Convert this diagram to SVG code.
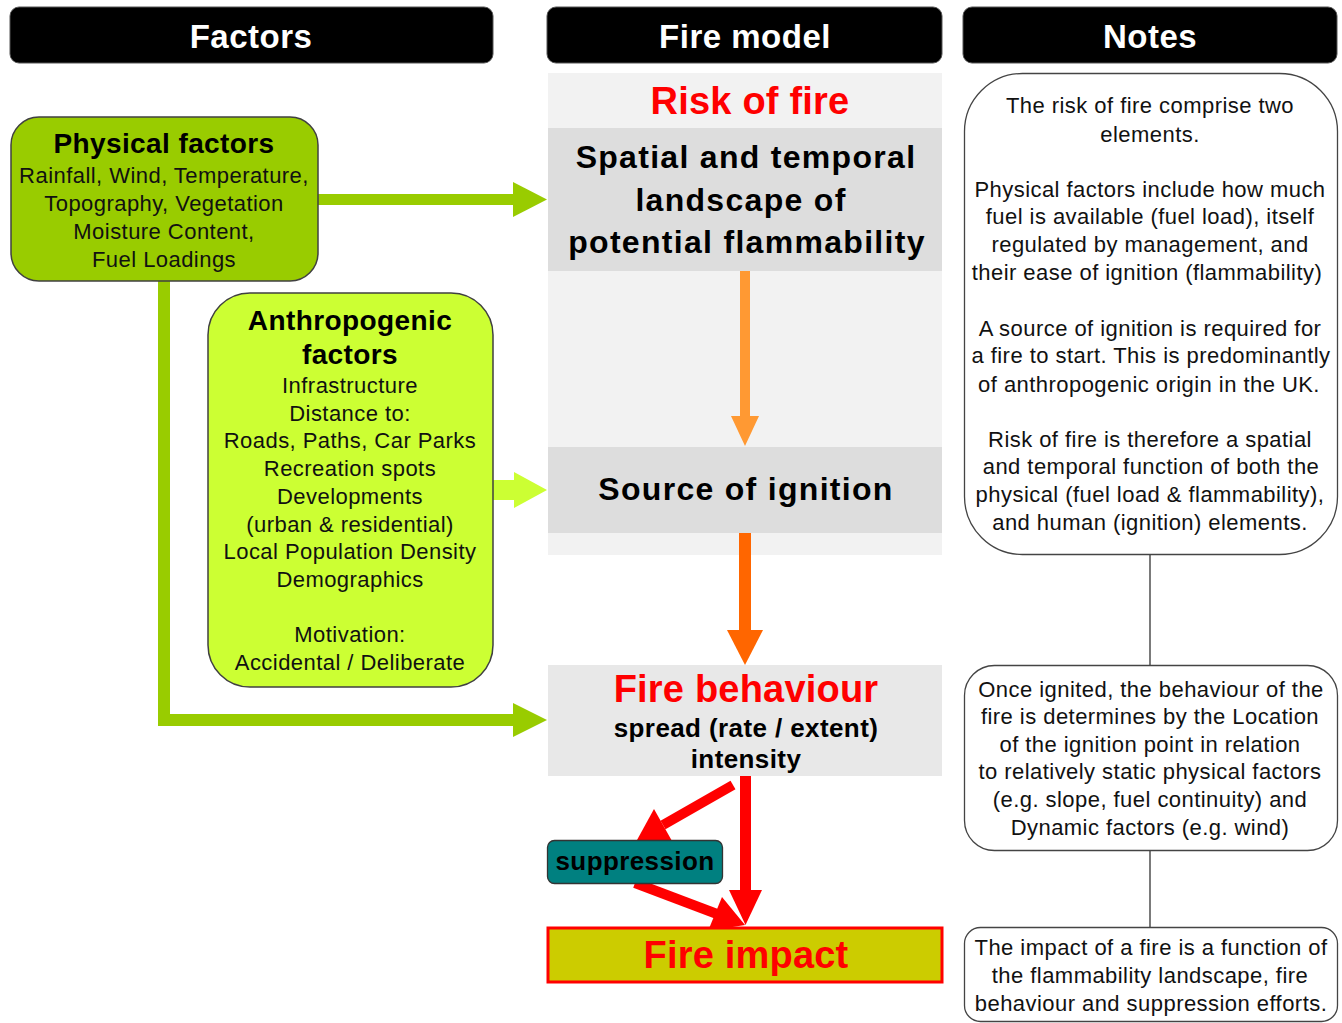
<svg xmlns="http://www.w3.org/2000/svg" width="1342" height="1023" viewBox="0 0 1342 1023">
<style>
text{font-family:"Liberation Sans",Arial,sans-serif;text-anchor:middle}
.hdrbox{fill:#000;stroke:#555;stroke-width:1}
.hdr{font-size:33px;font-weight:bold;fill:#fff;letter-spacing:0.5px}
.body{font-size:22px;letter-spacing:0.45px;fill:#111}
.ttl{font-size:28px;font-weight:bold;letter-spacing:0.4px;fill:#000}
.big{font-size:32px;font-weight:bold;letter-spacing:1.3px;fill:#000}
.red{font-size:38px;font-weight:bold;fill:#ff0000;letter-spacing:0.2px}
.sub{font-size:26px;font-weight:bold;letter-spacing:0.4px;fill:#000}
.note{fill:#fff;stroke:#444;stroke-width:1.3}
.g1{fill:#99cc00}
.g2{fill:#ccff33}
.tie{stroke:#333;stroke-width:1.3;fill:none}
</style>

<g id="headers">
  <g id="hdr-factors"><rect class="hdrbox" x="10" y="7" width="483" height="56" rx="9"/><text class="hdr" x="251" y="48">Factors</text></g>
  <g id="hdr-firemodel"><rect class="hdrbox" x="547" y="7" width="395" height="56" rx="9"/><text class="hdr" x="745" y="48">Fire model</text></g>
  <g id="hdr-notes"><rect class="hdrbox" x="963" y="7" width="374" height="56" rx="9"/><text class="hdr" x="1150" y="48">Notes</text></g>
</g>

<g id="firemodel-bg">
  <rect x="548" y="73" width="394" height="482" fill="#f2f2f2"/>
</g>

<g id="connectors">
  <!-- physical -> spatial -->
  <line x1="318" y1="199.5" x2="515" y2="199.5" stroke="#99cc00" stroke-width="11"/>
  <polygon class="g1" points="513,182 547,199.5 513,217"/>
  <!-- physical -> fire behaviour -->
  <path d="M164,281 V720 H515" fill="none" stroke="#99cc00" stroke-width="12"/>
  <polygon class="g1" points="513,703 547,720 513,737"/>
  <!-- anthropogenic -> source -->
  <polygon class="g2" points="493,480 514,480 514,472 547,490 514,508 514,500 493,500"/>
  <!-- spatial -> source -->
  <line x1="745" y1="271" x2="745" y2="418" stroke="#ff9933" stroke-width="10"/>
  <polygon fill="#ff9933" points="731,416 745,446 759,416"/>
  <!-- source -> behaviour -->
  <line x1="745" y1="533" x2="745" y2="632" stroke="#ff6600" stroke-width="12"/>
  <polygon fill="#ff6600" points="727,630 745,665 763,630"/>
  <!-- behaviour -> impact -->
  <line x1="745.5" y1="776" x2="745.5" y2="892" stroke="#ff0000" stroke-width="11"/>
  <polygon fill="#ff0000" points="729,890 745.5,925 762,890"/>
  <!-- behaviour -> suppression -->
  <line x1="733" y1="785" x2="663" y2="825" stroke="#ff0000" stroke-width="10"/>
  <polygon fill="#ff0000" points="637,840 654,809 672,841"/>
  <!-- suppression -> impact -->
  <line x1="635" y1="883" x2="717" y2="914" stroke="#ff0000" stroke-width="10"/>
  <polygon fill="#ff0000" points="745,925 708,931 722,897"/>
  <!-- notes ties -->
  <line class="tie" x1="1150" y1="555" x2="1150" y2="665"/>
  <line class="tie" x1="1150" y1="850" x2="1150" y2="927"/>
</g>

<g id="physical">
  <rect x="11" y="117" width="307" height="164" rx="28" fill="#99cc00" stroke="#404040" stroke-width="1.5"/>
  <text class="ttl" x="164" y="153">Physical factors</text>
  <text class="body" x="164" y="183">Rainfall, Wind, Temperature,</text>
  <text class="body" x="164" y="211">Topography, Vegetation</text>
  <text class="body" x="164" y="239">Moisture Content,</text>
  <text class="body" x="164" y="267">Fuel Loadings</text>
</g>

<g id="anthropogenic">
  <rect x="208" y="293" width="285" height="394" rx="42" fill="#ccff33" stroke="#404040" stroke-width="1.5"/>
  <text class="ttl" x="350" y="330">Anthropogenic</text>
  <text class="ttl" x="350" y="364">factors</text>
  <text class="body" x="350" y="393">Infrastructure</text>
  <text class="body" x="350" y="421">Distance to:</text>
  <text class="body" x="350" y="448">Roads, Paths, Car Parks</text>
  <text class="body" x="350" y="476">Recreation spots</text>
  <text class="body" x="350" y="504">Developments</text>
  <text class="body" x="350" y="532">(urban &amp; residential)</text>
  <text class="body" x="350" y="559">Local Population Density</text>
  <text class="body" x="350" y="587">Demographics</text>
  <text class="body" x="350" y="642">Motivation:</text>
  <text class="body" x="350" y="670">Accidental / Deliberate</text>
</g>

<g id="risk">
  <text class="red" x="750" y="114">Risk of fire</text>
</g>

<g id="spatial">
  <rect x="548" y="128" width="394" height="143" fill="#dddddd"/>
  <text class="big" x="746" y="168">Spatial and temporal</text>
  <text class="big" x="741" y="211">landscape of</text>
  <text class="big" x="747" y="253">potential flammability</text>
</g>

<g id="source">
  <rect x="548" y="447" width="394" height="86" fill="#dddddd"/>
  <text class="big" x="746" y="500">Source of ignition</text>
</g>

<g id="behaviour">
  <rect x="548" y="665" width="394" height="111" fill="#e8e8e8"/>
  <text class="red" x="746" y="702">Fire behaviour</text>
  <text class="sub" x="746" y="737">spread (rate / extent)</text>
  <text class="sub" x="746" y="768">intensity</text>
</g>

<g id="suppression">
  <rect x="547.5" y="840.5" width="175" height="43" rx="7" fill="#008080" stroke="#333" stroke-width="1.3"/>
  <text class="sub" x="635" y="870">suppression</text>
</g>

<g id="impact">
  <rect x="548" y="928" width="394" height="54" fill="#cccc00" stroke="#ff0000" stroke-width="3"/>
  <text class="red" x="746" y="968">Fire impact</text>
</g>

<g id="note1">
  <rect class="note" x="964.5" y="73.5" width="373" height="481" rx="58"/>
  <text class="body" x="1150" y="113">The risk of fire comprise two</text>
  <text class="body" x="1150" y="142">elements.</text>
  <text class="body" x="1150" y="197">Physical factors include how much</text>
  <text class="body" x="1150" y="224">fuel is available (fuel load), itself</text>
  <text class="body" x="1150" y="252">regulated by management, and</text>
  <text class="body" x="1147" y="280">their ease of ignition (flammability)</text>
  <text class="body" x="1150" y="336">A source of ignition is required for</text>
  <text class="body" x="1151" y="363">a fire to start. This is predominantly</text>
  <text class="body" x="1149" y="392">of anthropogenic origin in the UK.</text>
  <text class="body" x="1150" y="447">Risk of fire is therefore a spatial</text>
  <text class="body" x="1151" y="474">and temporal function of both the</text>
  <text class="body" x="1150" y="502">physical (fuel load &amp; flammability),</text>
  <text class="body" x="1150" y="530">and human (ignition) elements.</text>
</g>

<g id="note2">
  <rect class="note" x="964.5" y="665.5" width="373" height="185" rx="30"/>
  <text class="body" x="1151" y="697">Once ignited, the behaviour of the</text>
  <text class="body" x="1150" y="724">fire is determines by the Location</text>
  <text class="body" x="1150" y="752">of the ignition point in relation</text>
  <text class="body" x="1150" y="779">to relatively static physical factors</text>
  <text class="body" x="1150" y="807">(e.g. slope, fuel continuity) and</text>
  <text class="body" x="1150" y="835">Dynamic factors (e.g. wind)</text>
</g>

<g id="note3">
  <rect class="note" x="964.5" y="927.5" width="373" height="94" rx="16"/>
  <text class="body" x="1151" y="955">The impact of a fire is a function of</text>
  <text class="body" x="1150" y="983">the flammability landscape, fire</text>
  <text class="body" x="1151" y="1011">behaviour and suppression efforts.</text>
</g>
</svg>
